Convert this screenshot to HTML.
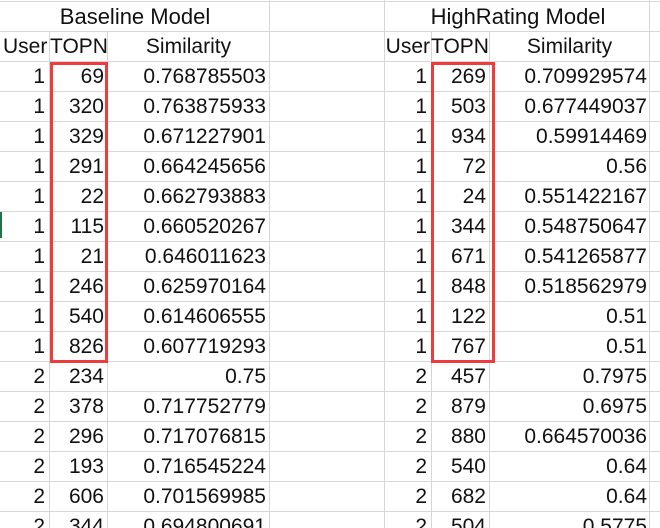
<!DOCTYPE html>
<html><head><meta charset="utf-8"><style>
html,body{margin:0;padding:0;background:#fff;}
#sheet{position:relative;width:660px;height:528px;overflow:hidden;font-family:"Liberation Sans","Noto Sans CJK SC",sans-serif;font-size:21px;color:#111;}
.gl{position:absolute;background:#d6d6d6;}
.c{position:absolute;height:30px;line-height:30px;white-space:nowrap;}
.r{text-align:right;}
.box{position:absolute;border:3px solid #ee3b3b;box-sizing:border-box;}
</style></head><body>
<div id="sheet"></div>
<script>
const baseUser=[1,1,1,1,1,1,1,1,1,1,2,2,2,2,2,2];
const baseTopn=[69,320,329,291,22,115,21,246,540,826,234,378,296,193,606,344];
const baseSim=["0.768785503","0.763875933","0.671227901","0.664245656","0.662793883","0.660520267","0.646011623","0.625970164","0.614606555","0.607719293","0.75","0.717752779","0.717076815","0.716545224","0.701569985","0.694800691"];
const highUser=[1,1,1,1,1,1,1,1,1,1,2,2,2,2,2,2];
const highTopn=[269,503,934,72,24,344,671,848,122,767,457,879,880,540,682,504];
const highSim=["0.709929574","0.677449037","0.59914469","0.56","0.551422167","0.548750647","0.541265877","0.518562979","0.51","0.51","0.7975","0.6975","0.664570036","0.64","0.64","0.5775"];

const S=document.getElementById('sheet');
const RH=30, TOP=1;
function rowTop(k){return TOP+RH*k;}
for(let k=0;k<=17;k++){
  const d=document.createElement('div');d.className='gl';
  
  
  d.style.cssText=`left:0;width:660px;top:${rowTop(k)}px;height:1px`;S.appendChild(d);
}
// lines below merged title row
[49,107,431,489].forEach(x=>{
  const d=document.createElement('div');d.className='gl';
  
  
  d.style.cssText=`left:${x}px;width:1px;top:${rowTop(1)}px;height:${528-rowTop(1)}px`;S.appendChild(d);
});
// full-height lines
[269,384,649].forEach(x=>{
  const d=document.createElement('div');d.className='gl';
  
  
  d.style.cssText=`left:${x}px;width:1px;top:0;height:528px`;S.appendChild(d);
});
function cell(txt,left,right,k,name,cls){
  const d=document.createElement('div');d.className='c '+(cls||'');
  
  
  d.style.left=left+'px';d.style.width=(right-left)+'px';d.style.top=(rowTop(k)+1)+'px';
  d.textContent=txt;S.appendChild(d);
}
cell('Baseline Model',0,270,0,'baseline-model-title');S.lastChild.style.textAlign='center';S.lastChild.style.fontSize='22px';
cell('HighRating Model',384,652,0,'highrating-model-title');S.lastChild.style.textAlign='center';S.lastChild.style.fontSize='22px';
cell('User',0,48,1,'base-user-header');S.lastChild.style.left='3px';
cell('TOPN',50,107,1,'base-topn-header');
cell('Similarity',108,269,1,'base-similarity-header');S.lastChild.style.textAlign='center';
cell('User',384,430,1,'high-user-header','r');
cell('TOPN',431,489,1,'high-topn-header');
cell('Similarity',490,649,1,'high-similarity-header');S.lastChild.style.textAlign='center';
for(let i=0;i<baseUser.length;i++){
  const k=i+2;
  cell(String(baseUser[i]),0,45,k,'base-user-cell','r');
  cell(String(baseTopn[i]),50,104,k,'base-topn-cell','r');
  cell(baseSim[i],108,266,k,'base-similarity-cell','r');
  cell(String(highUser[i]),384,427,k,'high-user-cell','r');
  cell(String(highTopn[i]),432,486,k,'high-topn-cell','r');
  cell(highSim[i],490,647,k,'high-similarity-cell','r');
}
[[50,108],[431,495]].forEach((p,j)=>{
  const b=document.createElement('div');b.className='box';
  
  
  b.style.cssText=`left:${p[0]}px;width:${p[1]-p[0]}px;top:62px;height:301px`;S.appendChild(b);
});
const g=document.createElement('div');


g.style.cssText='position:absolute;left:0;top:212px;width:2px;height:26px;background:#217346';
S.appendChild(g);
</script>
</body></html>
